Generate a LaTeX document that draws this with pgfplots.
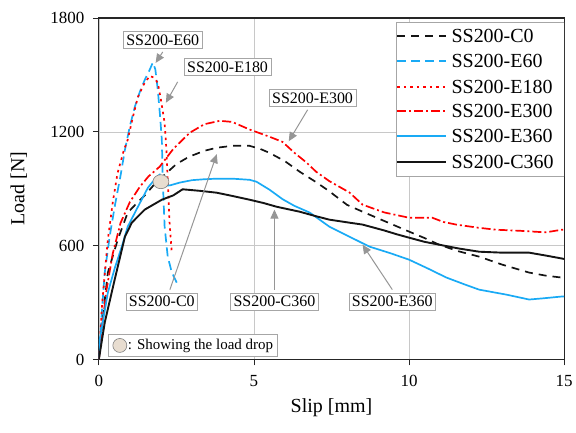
\documentclass[border=0pt]{standalone}
\usepackage{pgfplots}
\pgfplotsset{compat=1.18}
\usepackage{fontspec}
\setmainfont{Liberation Serif}
\usetikzlibrary{arrows.meta}
\definecolor{skyb}{RGB}{25,170,245}
\definecolor{beige}{RGB}{232,221,208}
\definecolor{gridc}{RGB}{200,200,200}
\definecolor{arrc}{RGB}{150,150,150}
\definecolor{ink}{RGB}{20,20,20}

\tikzset{
  sC0/.style={ink, line width=1.7pt, dash pattern=on 8pt off 6pt},
  sE60/.style={skyb, line width=1.7pt, dash pattern=on 9pt off 5pt},
  sE180/.style={red, line width=1.7pt, dash pattern=on 2.5pt off 4pt},
  sE300/.style={red, line width=1.7pt, dash pattern=on 9pt off 3pt on 2pt off 3pt},
  sE360/.style={skyb, line width=1.7pt},
  sC360/.style={ink, line width=1.9pt},
}

\begin{document}
\begin{tikzpicture}
\begin{axis}[
    scale only axis,
    width=466pt, height=342pt,
    xmin=0, xmax=15, ymin=0, ymax=1800,
    xtick={0,5,10,15}, ytick={0,600,1200,1800},
    grid=major,
    major grid style={gridc, line width=0.6pt},
    tick align=outside, tick pos=left,
    major tick length=6pt,
    axis line style={line width=1.1pt, black!85},
    tick style={line width=0.9pt, black!85},
    /pgf/number format/assume math mode=true,
    /pgf/number format/1000 sep={},
    ticklabel style={font=\fontsize{17}{20}\selectfont},
    xticklabel style={yshift=-6pt},
    yticklabel style={xshift=-5pt},
    xlabel={Slip [mm]}, ylabel={Load [N]},
    label style={font=\fontsize{20}{24}\selectfont},
    xlabel style={at={(axis description cs:0.5,-0.14)}, anchor=center},
    ylabel style={at={(axis description cs:-0.172,0.5)}, anchor=center},
]
% SS200-C0
\addplot[sC0] coordinates {
(0,0) (0.1,180) (0.29,458) (0.61,632) (0.93,774) (1.2,820) (1.48,865) (1.8,925)
(2.12,974) (2.5,1030) (2.9,1068) (3.4,1100) (3.8,1116) (4.3,1126) (4.86,1126)
(5.2,1110) (5.5,1089) (6.0,1045) (6.47,990) (7.0,935) (7.4,890) (8.0,815)
(8.5,779) (9.2,730) (10.0,674) (10.5,640) (10.97,605) (11.6,570) (12.26,542)
(13.0,500) (13.87,458) (14.4,442) (15,430)
};
% SS200-E60
\addplot[sE60] coordinates {
(0,0) (0.1,260) (0.19,458) (0.35,650) (0.51,805) (0.7,970) (0.84,1105) (1.0,1230)
(1.16,1332) (1.32,1410) (1.48,1474) (1.62,1520) (1.74,1565) (1.82,1530) (1.9,1421)
(1.97,1290) (2.03,1158) (2.06,947) (2.12,700) (2.22,542) (2.35,460) (2.51,405)
};
% SS200-E180
\addplot[sE180] coordinates {
(0,0) (0.1,280) (0.2,470) (0.29,632) (0.45,830) (0.6,980) (0.8,1100) (0.93,1158)
(1.1,1280) (1.26,1384) (1.45,1450) (1.64,1495) (1.78,1485) (1.9,1458) (2.0,1370)
(2.12,1247) (2.18,1100) (2.22,947) (2.28,721) (2.35,563)
};
% SS200-E300
\addplot[sE300] coordinates {
(0,0) (0.1,170) (0.25,370) (0.45,560) (0.7,720) (1.0,830) (1.32,910) (1.6,965)
(1.96,1016) (2.4,1110) (2.93,1195) (3.4,1240) (3.9,1258) (4.3,1252) (4.86,1212)
(5.5,1174) (5.92,1147) (6.3,1090) (6.7,1037) (7.0,990) (7.43,940) (8.08,880)
(8.5,816) (9.2,775) (10.0,747) (10.75,747) (11.1,725) (11.52,711) (12.2,695)
(12.8,684) (13.6,678) (14.4,670) (14.93,684) (15,684)
};
% SS200-E360
\addplot[sE360] coordinates {
(0,0) (0.03,105) (0.29,352) (0.51,480) (0.74,595) (0.93,700) (1.26,805) (1.58,905)
(1.87,963) (1.96,974) (2.03,930) (2.1,915) (2.3,918) (2.6,932) (3.0,945) (3.4,950)
(3.8,953) (4.3,953) (4.86,947) (5.08,937) (5.5,895) (5.92,845) (6.3,810) (6.8,774)
(7.43,700) (8.08,647) (8.72,595) (9.4,560) (10.0,526) (10.6,480) (11.2,432)
(11.8,395) (12.26,368) (13.13,342) (13.87,316) (14.3,322) (14.93,332) (15,332)
};
% SS200-C360
\addplot[sC360] coordinates {
(0,0) (0.19,195) (0.51,421) (0.84,647) (1.0,700) (1.06,721) (1.48,790) (2.03,842)
(2.4,865) (2.7,897) (3.25,889) (3.8,879) (4.3,862) (4.86,842) (5.3,825) (5.73,805)
(6.47,779) (7.0,755) (7.43,737) (8.08,721) (8.5,711) (9.2,680) (9.6,660)
(10.0,642) (10.5,620) (10.97,605) (11.6,585) (12.26,568) (13.0,563) (13.87,563)
(14.4,548) (14.93,532) (15,530)
};

% load drop marker
\draw[fill=beige, draw=gray, line width=0.6pt]
    (axis cs:2.0,937) ellipse [x radius=8pt, y radius=7pt];

% legend box and samples (strokes first, text afterwards)
\draw[draw=gray!70, fill=white, line width=0.7pt]
    (axis description cs:0.6395,0.535) rectangle (axis description cs:1.0,0.988);
\draw[sC0]   (axis description cs:0.6416,0.947) -- (axis description cs:0.7468,0.947);
\draw[sE60]  (axis description cs:0.6416,0.874) -- (axis description cs:0.7468,0.874);
\draw[sE180] (axis description cs:0.6416,0.798) -- (axis description cs:0.7468,0.798);
\draw[sE300] (axis description cs:0.6416,0.728) -- (axis description cs:0.7468,0.728);
\draw[sE360] (axis description cs:0.6416,0.655) -- (axis description cs:0.7468,0.655);
\draw[sC360] (axis description cs:0.6416,0.579) -- (axis description cs:0.7468,0.579);

% annotations
\tikzset{lab/.style={draw=gray!70, fill=white, line width=0.7pt,
    font=\fontsize{16}{18}\selectfont, inner sep=3pt},
    arr/.style={draw=arrc, line width=1pt, -{Triangle[length=9pt,width=8pt]}}}
\draw[arr] (axis cs:2.06,1621) -- (axis cs:1.83,1563);
\draw[arr] (axis cs:2.54,1463) -- (axis cs:2.16,1353);
\draw[arr] (axis cs:6.73,1316) -- (axis cs:6.12,1150);
\draw[arr] (axis cs:2.29,368) -- (axis cs:3.8,1082);
\draw[arr] (axis cs:5.66,368) -- (axis cs:5.66,790);
\draw[arr] (axis cs:9.46,368) -- (axis cs:8.5,605);
\draw[draw=gray!70, fill=white, line width=0.7pt]
    (axis cs:0.29,16) rectangle (axis cs:5.766,130);
\draw[fill=beige, draw=gray, line width=0.6pt] (axis cs:0.676,74) circle [radius=7pt];

\node[lab] at (axis cs:2.06,1684) {SS200-E60};
\node[lab] at (axis cs:4.15,1542) {SS200-E180};
\node[lab] at (axis cs:6.89,1379) {SS200-E300};
\node[lab] at (axis cs:2.03,305) {SS200-C0};
\node[lab] at (axis cs:5.66,305) {SS200-C360};
\node[lab] at (axis cs:9.46,305) {SS200-E360};
\node[anchor=west, inner sep=0pt, font=\fontsize{15}{18}\selectfont]
    at (axis cs:0.93,74) {: Showing the load drop};

\begin{scope}[every node/.style={anchor=west, inner sep=0pt, font=\fontsize{20}{24}\selectfont}]
\node at (axis description cs:0.7575,0.947) {SS200-C0};
\node at (axis description cs:0.7575,0.874) {SS200-E60};
\node at (axis description cs:0.7575,0.798) {SS200-E180};
\node at (axis description cs:0.7575,0.728) {SS200-E300};
\node at (axis description cs:0.7575,0.655) {SS200-E360};
\node at (axis description cs:0.7575,0.579) {SS200-C360};
\end{scope}
\end{axis}
\path (current axis.south west) ++(-99pt,-73pt) rectangle ++(576pt,433pt);
\end{tikzpicture}
\end{document}
